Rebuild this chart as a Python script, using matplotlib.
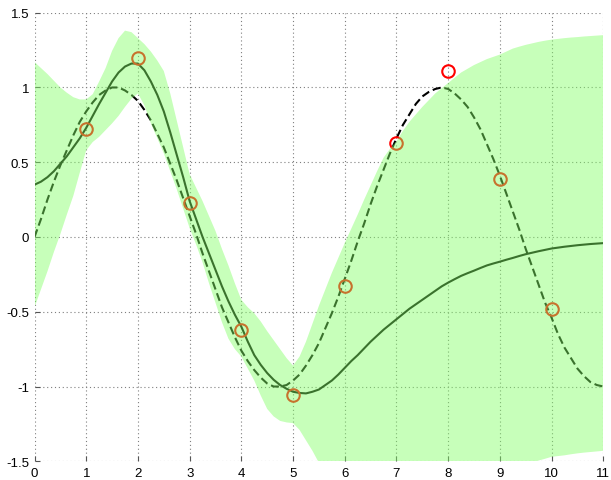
import numpy as np
import matplotlib
matplotlib.use("Agg")
import matplotlib.pyplot as plt

# observations
obs_x = [1, 2, 3, 4, 5, 6, 7, 8, 9, 10]
obs_y = [0.72, 1.20, 0.23, -0.62, -1.06, -0.33, 0.63, 1.11, 0.39, -0.48]

# curves are sampled every 1/8 on [0, 11]
grid_x = np.linspace(0, 11, 89)

# true function (dashed)
true_f = [0.00, 0.12, 0.25, 0.37, 0.48, 0.58, 0.68, 0.77,
          0.84, 0.90, 0.95, 0.98, 1.00, 1.00, 0.98, 0.95,
          0.91, 0.85, 0.78, 0.69, 0.60, 0.49, 0.38, 0.26,
          0.14, 0.02, -0.11, -0.23, -0.35, -0.47, -0.57, -0.67,
          -0.76, -0.83, -0.89, -0.94, -0.98, -1.00, -1.00, -0.99,
          -0.96, -0.92, -0.86, -0.79, -0.71, -0.61, -0.51, -0.40,
          -0.28, -0.16, -0.03, 0.09, 0.22, 0.34, 0.45, 0.56,
          0.66, 0.75, 0.82, 0.89, 0.94, 0.97, 0.99, 1.00,
          0.99, 0.96, 0.92, 0.87, 0.80, 0.72, 0.62, 0.52,
          0.41, 0.29, 0.17, 0.05, -0.08, -0.20, -0.32, -0.44,
          -0.54, -0.65, -0.74, -0.81, -0.88, -0.93, -0.97, -0.99,
          -1.00]

# posterior mean (solid)
post_mean = [0.35, 0.37, 0.40, 0.44, 0.49, 0.54, 0.60, 0.66,
             0.73, 0.81, 0.89, 0.965, 1.04, 1.10, 1.14, 1.16,
             1.16, 1.115, 1.04, 0.95, 0.84, 0.70, 0.55, 0.40,
             0.24, 0.12, 0.00, -0.11, -0.22, -0.33, -0.43, -0.52,
             -0.60, -0.70, -0.79, -0.855, -0.91, -0.955, -0.99, -1.015,
             -1.035, -1.043, -1.046, -1.035, -1.02, -0.99, -0.96, -0.92,
             -0.875, -0.83, -0.79, -0.745, -0.70, -0.66, -0.62, -0.585,
             -0.55, -0.515, -0.48, -0.45, -0.42, -0.39, -0.36, -0.33,
             -0.305, -0.282, -0.26, -0.242, -0.225, -0.207, -0.19, -0.177,
             -0.165, -0.152, -0.14, -0.127, -0.115, -0.105, -0.095, -0.086,
             -0.077, -0.071, -0.065, -0.06, -0.055, -0.051, -0.047, -0.044,
             -0.041]

# confidence band
band_hi = [1.17, 1.13, 1.09, 1.045, 1.00, 0.965, 0.935, 0.92,
           0.92, 0.955, 1.04, 1.13, 1.245, 1.33, 1.38, 1.37,
           1.33, 1.29, 1.24, 1.18, 1.11, 0.96, 0.78, 0.60,
           0.42, 0.33, 0.24, 0.14, 0.04, -0.08, -0.19, -0.31,
           -0.42, -0.47, -0.51, -0.565, -0.63, -0.69, -0.75, -0.81,
           -0.86, -0.80, -0.70, -0.58, -0.46, -0.35, -0.24, -0.14,
           -0.04, 0.055, 0.15, 0.25, 0.345, 0.44, 0.53, 0.59,
           0.64, 0.71, 0.77, 0.82, 0.87, 0.915, 0.96, 0.995,
           1.03, 1.065, 1.10, 1.125, 1.15, 1.17, 1.19, 1.205,
           1.22, 1.24, 1.26, 1.273, 1.285, 1.295, 1.305, 1.313,
           1.32, 1.325, 1.33, 1.334, 1.337, 1.341, 1.344, 1.347,
           1.35]
band_lo = [-0.47, -0.35, -0.23, -0.10, 0.02, 0.15, 0.275, 0.43,
           0.58, 0.635, 0.67, 0.715, 0.76, 0.81, 0.87, 0.925,
           0.96, 0.88, 0.76, 0.66, 0.56, 0.44, 0.32, 0.19,
           0.06, -0.05, -0.17, -0.31, -0.44, -0.57, -0.68, -0.75,
           -0.80, -0.88, -0.96, -1.06, -1.15, -1.20, -1.23, -1.24,
           -1.245, -1.29, -1.36, -1.43, -1.51, -1.60, -1.68, -1.70,
           -1.71, -1.72, -1.73, -1.74, -1.745, -1.76, -1.77, -1.76,
           -1.74, -1.735, -1.73, -1.72, -1.71, -1.695, -1.68, -1.66,
           -1.64, -1.63, -1.62, -1.61, -1.60, -1.585, -1.57, -1.56,
           -1.55, -1.545, -1.54, -1.527, -1.515, -1.505, -1.495, -1.483,
           -1.47, -1.465, -1.46, -1.453, -1.447, -1.442, -1.438, -1.434,
           -1.43]

xticks = list(range(0, 12))
yticks = [-1.5, -1, -0.5, 0, 0.5, 1, 1.5]
ytick_labels = ["-1.5", "-1", "-0.5", "0", "0.5", "1", "1.5"]

plt.rcParams['font.family'] = ['Liberation Sans', 'DejaVu Sans']

fig = plt.figure(figsize=(6.11, 4.81), dpi=100)
ax = fig.add_axes([0.0565, 0.0389, 0.9309, 0.9326])

ax.plot(grid_x, true_f, color='k', linewidth=1.5, dashes=(3.9, 1.9), zorder=2)
ax.plot(grid_x, post_mean, color='k', linewidth=1.5, zorder=2)
ax.plot(obs_x, obs_y, 'o', markerfacecolor='none', markeredgecolor='r',
        markeredgewidth=1.5, markersize=9, zorder=3)

# translucent band drawn over the curves
ax.fill_between(grid_x, band_lo, band_hi, facecolor=(0.514, 1.0, 0.40),
                alpha=0.45, linewidth=0, zorder=4)

ax.set_xlim(0, 11)
ax.set_ylim(-1.5, 1.5)
ax.set_xticks(xticks)
ax.set_yticks(yticks)
ax.set_yticklabels(ytick_labels)
ax.grid(True, color='#7f7f7f', linestyle=(0, (1, 2.5)), linewidth=0.8, zorder=0)
ax.set_axisbelow(True)
for s in ax.spines.values():
    s.set_visible(False)
ax.tick_params(direction='in', length=3.5, width=0.8, color='#555555',
               labelsize=9.5, pad=4)

fig.savefig("out.png", dpi=100)
